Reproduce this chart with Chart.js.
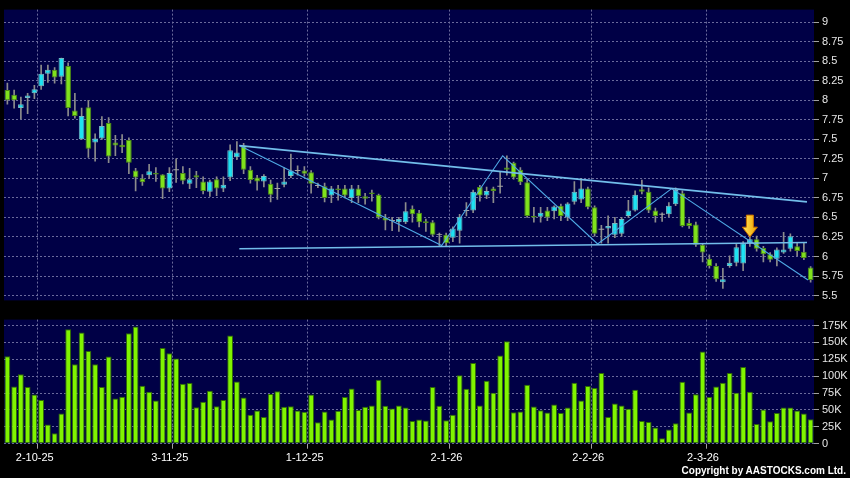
<!DOCTYPE html>
<html>
<head>
<meta charset="utf-8">
<script src="https://cdn.jsdelivr.net/npm/chart.js@4.4.1/dist/chart.umd.min.js"></script>
<style>
  html, body { margin: 0; padding: 0; background: #000; }
  #wrap { position: relative; width: 850px; height: 478px; overflow: hidden; background: #000; }
  #priceBox { position: absolute; left: 0; top: 0; width: 850px; height: 310px; }
  #volBox { position: absolute; left: 0; top: 310px; width: 850px; height: 168px; }
  #copy { position: absolute; right: 4px; top: 465px; color: #fff; font: bold 10px "Liberation Sans", Arial, sans-serif; }
</style>
</head>
<body>
<div id="wrap">
  <div id="priceBox"><canvas id="priceChart" width="850" height="310"></canvas></div>
  <div id="volBox"><canvas id="volChart" width="850" height="168"></canvas></div>
  <div id="copy">Copyright by AASTOCKS.com Ltd.</div>
</div>
<script>
// daily candles, one per trading day (index 0 = 24 Sep 2025)
const opens = [8.13,8.07,7.90,8.03,8.09,8.18,8.34,8.39,8.30,8.44,
  7.87,7.50,7.91,7.46,7.51,7.71,7.46,7.43,7.49,7.10,
  7.00,7.04,7.07,7.05,6.87,7.11,7.07,6.93,7.04,6.96,
  6.83,6.99,6.87,7.01,7.27,7.42,7.11,7.01,6.96,6.93,
  6.87,6.92,7.03,7.10,7.10,7.08,6.91,6.90,6.78,6.87,
  6.87,6.75,6.87,6.77,6.82,6.79,6.50,6.46,6.44,6.44,
  6.61,6.56,6.45,6.44,6.28,6.28,6.24,6.33,6.59,6.59,
  6.89,6.78,6.87,6.90,7.14,7.20,7.11,6.95,6.52,6.51,
  6.59,6.58,6.65,6.50,6.70,6.73,6.87,6.63,6.35,6.36,
  6.28,6.29,6.52,6.59,6.86,6.83,6.59,6.54,6.54,6.67,
  6.81,6.43,6.41,6.15,5.97,5.88,5.67,5.88,5.92,5.91,
  6.17,6.22,6.11,6.03,5.97,6.05,6.10,6.13,6.06,5.86];
const highs = [8.22,8.13,8.04,8.09,8.19,8.45,8.45,8.42,8.54,8.48,
  8.09,7.90,8.00,7.57,7.79,7.78,7.55,7.56,7.52,7.13,
  7.05,7.18,7.14,7.05,7.14,7.25,7.15,7.13,7.09,7.02,
  6.98,7.02,7.02,7.43,7.47,7.45,7.15,7.04,7.05,6.98,
  6.94,7.14,7.31,7.16,7.15,7.10,6.94,6.94,6.90,6.91,
  6.91,6.91,6.91,6.81,6.85,6.80,6.54,6.50,6.50,6.69,
  6.65,6.59,6.48,6.46,6.30,6.30,6.38,6.54,6.69,6.85,
  6.91,6.89,6.89,7.08,7.29,7.21,7.14,6.99,6.63,6.63,
  6.63,6.65,6.67,6.69,6.96,7.00,6.89,6.65,6.40,6.52,
  6.50,6.50,6.72,6.84,6.98,6.88,6.62,6.56,6.69,6.88,
  6.84,6.48,6.44,6.17,6.02,5.91,5.85,6.01,6.17,6.19,
  6.25,6.26,6.13,6.05,6.11,6.31,6.29,6.17,6.17,5.87];
const lows = [7.95,7.90,7.76,7.83,8.02,8.14,8.23,8.22,8.21,7.80,
  7.77,7.50,7.27,7.22,7.50,7.20,7.29,7.33,7.06,6.84,
  6.91,7.00,6.96,6.74,6.83,6.95,6.93,6.87,6.88,6.80,
  6.77,6.78,6.83,6.97,7.24,7.06,6.94,6.85,6.89,6.70,
  6.73,6.89,7.01,7.04,7.03,6.81,6.88,6.70,6.69,6.72,
  6.75,6.69,6.69,6.67,6.71,6.48,6.34,6.33,6.32,6.42,
  6.44,6.38,6.32,6.26,6.13,6.13,6.19,6.17,6.52,6.56,
  6.71,6.74,6.69,6.81,7.04,6.99,6.92,6.50,6.44,6.44,
  6.46,6.48,6.46,6.46,6.67,6.69,6.61,6.26,6.17,6.17,
  6.24,6.26,6.50,6.58,6.80,6.56,6.44,6.45,6.51,6.65,
  6.38,6.36,6.13,5.93,5.85,5.68,5.59,5.86,5.88,5.82,
  6.13,6.07,5.93,5.93,5.88,6.04,6.07,6.01,5.96,5.67];
const closes = [8.00,8.00,7.95,8.06,8.14,8.34,8.39,8.29,8.54,7.90,
  7.80,7.80,7.38,7.51,7.67,7.28,7.42,7.40,7.20,7.01,
  6.95,7.09,7.05,6.87,7.07,7.11,6.97,6.99,7.01,6.84,
  6.96,6.87,6.92,7.36,7.33,7.11,6.98,6.96,7.03,6.79,
  6.87,6.96,7.10,7.10,7.06,6.93,6.91,6.75,6.87,6.85,
  6.78,6.87,6.77,6.74,6.80,6.50,6.46,6.46,6.48,6.58,
  6.54,6.44,6.43,6.28,6.28,6.17,6.36,6.51,6.59,6.83,
  6.78,6.84,6.84,6.90,7.11,7.01,6.95,6.52,6.50,6.56,
  6.50,6.64,6.52,6.68,6.83,6.87,6.63,6.29,6.35,6.39,
  6.43,6.48,6.59,6.79,6.83,6.59,6.52,6.54,6.65,6.85,
  6.39,6.39,6.15,6.05,5.88,5.71,5.71,5.92,6.12,6.17,
  6.22,6.10,6.03,5.96,6.09,6.09,6.26,6.07,5.98,5.70];
// volume in thousands of shares
const volumeK = [129.7,84.8,102.9,83.9,72.7,64.9,28.4,15.6,44.9,169.6,
  117.5,164.8,137.4,117.5,83.9,129.2,66.8,69.7,163.7,173.5,
  85.8,77.0,63.9,141.8,134.0,126.3,88.7,89.8,54.1,62.0,
  78.5,55.6,64.9,160.4,92.1,68.3,43.0,49.3,39.5,73.7,
  77.8,54.8,55.6,49.3,47.4,72.7,31.7,47.8,35.7,48.8,
  69.3,81.9,50.0,54.8,56.6,94.6,56.3,52.2,56.6,53.7,
  33.5,35.7,34.2,84.1,56.3,34.7,43.0,101.5,81.4,119.4,
  56.6,93.1,75.6,130.7,151.6,46.6,47.8,87.3,55.1,49.7,
  46.3,58.0,45.6,53.7,90.2,63.9,85.4,82.5,104.8,39.5,
  59.5,56.6,51.8,80.0,33.6,32.2,24.0,7.9,21.0,30.3,
  91.7,46.3,73.1,136.5,69.3,84.8,90.2,104.8,75.6,113.6,
  77.0,29.2,50.7,33.2,45.3,53.7,53.7,49.3,44.9,36.1];

// x-axis: first trading day of each month
const monthLabels = ['2-10-25', '3-11-25', '1-12-25', '2-1-26', '2-2-26', '2-3-26'];
const monthStart = [5, 25, 45, 66, 87, 104];

const priceTicks = [5.5, 5.75, 6, 6.25, 6.5, 6.75, 7, 7.25, 7.5, 7.75, 8, 8.25, 8.5, 8.75, 9];
const volTicks = [0, 25, 50, 75, 100, 125, 150, 175];
const volTickLabels = ['0', '25K', '50K', '75K', '100K', '125K', '150K', '175K'];

// drawn trend lines, in (day index, price)
const trendUpper = [{x: 34.36, y: 7.42}, {x: 118.46, y: 6.70}];
const trendLower = [{x: 34.36, y: 6.10}, {x: 118.46, y: 6.18}];
const zigzag = [{x: 34.36, y: 7.42}, {x: 64.34, y: 6.14}, {x: 73.38, y: 7.29},
  {x: 87.45, y: 6.16}, {x: 98.41, y: 6.87}, {x: 118.61, y: 5.70}];
// signal arrow above the candle
const arrowMark = {x: 110, top: 6.53, tip: 6.25};

const GREEN = '#80e21c', GREEN_EDGE = '#4c8c16';
const CYAN = '#1ee2f2', CYAN_EDGE = '#78b9c4';
const GREY = '#a4a4a4';
const GRID = '#6a6a9c';
const NAVY = '#000046';
const FONT = '"Liberation Sans", Arial, sans-serif';

Chart.defaults.font.family = FONT;
Chart.defaults.font.size = 11;
Chart.defaults.animation = false;

function dir(i) {
    if (Math.abs(closes[i] - opens[i]) < 0.005) return 0;
    return closes[i] > opens[i] ? 1 : -1;
}

const bodyData = opens.map((o, i) => {
    if (dir(i) === 0) return {x: i, y: [o - 0.006, o + 0.006]};
    return {x: i, y: [o, closes[i]]};
});
const wickData = highs.map((h, i) => ({x: i, y: [lows[i], h]}));
const volData = volumeK.map((v, i) => ({x: i, y: v}));

// navy plot background
const plotBg = {
    id: 'plotBg',
    beforeDraw(chart) {
        const a = chart.chartArea;
        chart.ctx.save();
        chart.ctx.fillStyle = NAVY;
        chart.ctx.fillRect(a.left, a.top, a.right - a.left, a.bottom - a.top);
        chart.ctx.restore();
    }
};

const arrowPlugin = {
    id: 'arrowMark',
    afterDatasetsDraw(chart) {
        const {ctx, scales: {x, y}} = chart;
        const cx = x.getPixelForValue(arrowMark.x);
        const yTop = y.getPixelForValue(arrowMark.top);
        const yTip = y.getPixelForValue(arrowMark.tip);
        const yNeck = yTop + (yTip - yTop) * 0.55;
        ctx.save();
        ctx.beginPath();
        ctx.moveTo(cx - 3.5, yTop);
        ctx.lineTo(cx + 3.5, yTop);
        ctx.lineTo(cx + 3.5, yNeck);
        ctx.lineTo(cx + 7.5, yNeck);
        ctx.lineTo(cx, yTip);
        ctx.lineTo(cx - 7.5, yNeck);
        ctx.lineTo(cx - 3.5, yNeck);
        ctx.closePath();
        const g = ctx.createLinearGradient(cx - 7, 0, cx + 7, 0);
        g.addColorStop(0, '#ffe45a');
        g.addColorStop(1, '#f2a400');
        ctx.fillStyle = g;
        ctx.fill();
        ctx.strokeStyle = '#c87000';
        ctx.lineWidth = 1;
        ctx.stroke();
        ctx.restore();
    }
};

function monthAxis(showLabels) {
    return {
        type: 'linear',
        min: -0.5,
        max: 119.5,
        offset: false,
        afterBuildTicks: s => { s.ticks = monthStart.map(i => ({value: i - 0.5})); },
        afterFit: s => { s.height = showLabels ? 34.3 : 0; },
        grid: {
            offset: false,
            color: GRID,
            drawTicks: showLabels,
            tickLength: 5,
            tickColor: '#a0a0a0',
            tickBorderDash: []
        },
        border: {display: false, dash: [2, 2]},
        ticks: {
            display: showLabels,
            color: '#ffffff',
            padding: 3,
            maxRotation: 0,
            autoSkip: false,
            labelOffset: -3,
            callback: (v, i) => monthLabels[i]
        }
    };
}

function rightAxis(min, max, ticks, fmt) {
    return {
        position: 'right',
        min: min,
        max: max,
        afterBuildTicks: s => { s.ticks = ticks.map(v => ({value: v})); },
        afterFit: s => { s.width = 36; },
        grid: {
            color: GRID,
            drawTicks: true,
            tickLength: 5,
            tickColor: '#a0a0a0',
            tickBorderDash: []
        },
        border: {display: false, dash: [2, 2]},
        ticks: {color: '#e6e6e6', padding: 3, callback: fmt}
    };
}

new Chart(document.getElementById('priceChart'), {
    type: 'bar',
    data: {
        datasets: [
            {type: 'line', data: trendUpper, borderColor: '#72bdea', borderWidth: 1.6, pointRadius: 0, order: 0},
            {type: 'line', data: trendLower, borderColor: '#72bdea', borderWidth: 1.6, pointRadius: 0, order: 0},
            {type: 'line', data: zigzag, borderColor: '#4ea8e4', borderWidth: 1.1, pointRadius: 0, order: 0},
            {
                data: bodyData,
                grouped: false,
                order: 1,
                categoryPercentage: 1,
                barPercentage: 0.84,
                borderSkipped: false,
                borderWidth: c => dir(c.dataIndex) === 0 ? 0 : 1,
                backgroundColor: c => [GREEN, GREY, CYAN][dir(c.dataIndex) + 1],
                borderColor: c => [GREEN_EDGE, GREY, CYAN_EDGE][dir(c.dataIndex) + 1]
            },
            {
                data: wickData,
                grouped: false,
                order: 2,
                barThickness: 1,
                backgroundColor: '#8c8c8c'
            }
        ]
    },
    options: {
        responsive: false,
        devicePixelRatio: 1,
        layout: {padding: {left: 4, top: 5, right: 0, bottom: 4}},
        plugins: {legend: {display: false}, tooltip: {enabled: false}},
        scales: {
            x: monthAxis(false),
            y: rightAxis(5.4382, 9.1608, priceTicks, v => String(v))
        }
    },
    plugins: [plotBg, arrowPlugin]
});

new Chart(document.getElementById('volChart'), {
    type: 'bar',
    data: {
        datasets: [{
            data: volData,
            categoryPercentage: 1,
            barPercentage: 0.86,
            borderSkipped: false,
            borderWidth: 1,
            backgroundColor: '#80f400',
            borderColor: '#2f6a06'
        }]
    },
    options: {
        responsive: false,
        devicePixelRatio: 1,
        layout: {padding: {left: 4, top: 8, right: 0, bottom: 0}},
        plugins: {legend: {display: false}, tooltip: {enabled: false}},
        scales: {
            x: monthAxis(true),
            y: rightAxis(0, 183.8, volTicks, v => volTickLabels[volTicks.indexOf(v)])
        }
    },
    plugins: [plotBg]
});
</script>
</body>
</html>
